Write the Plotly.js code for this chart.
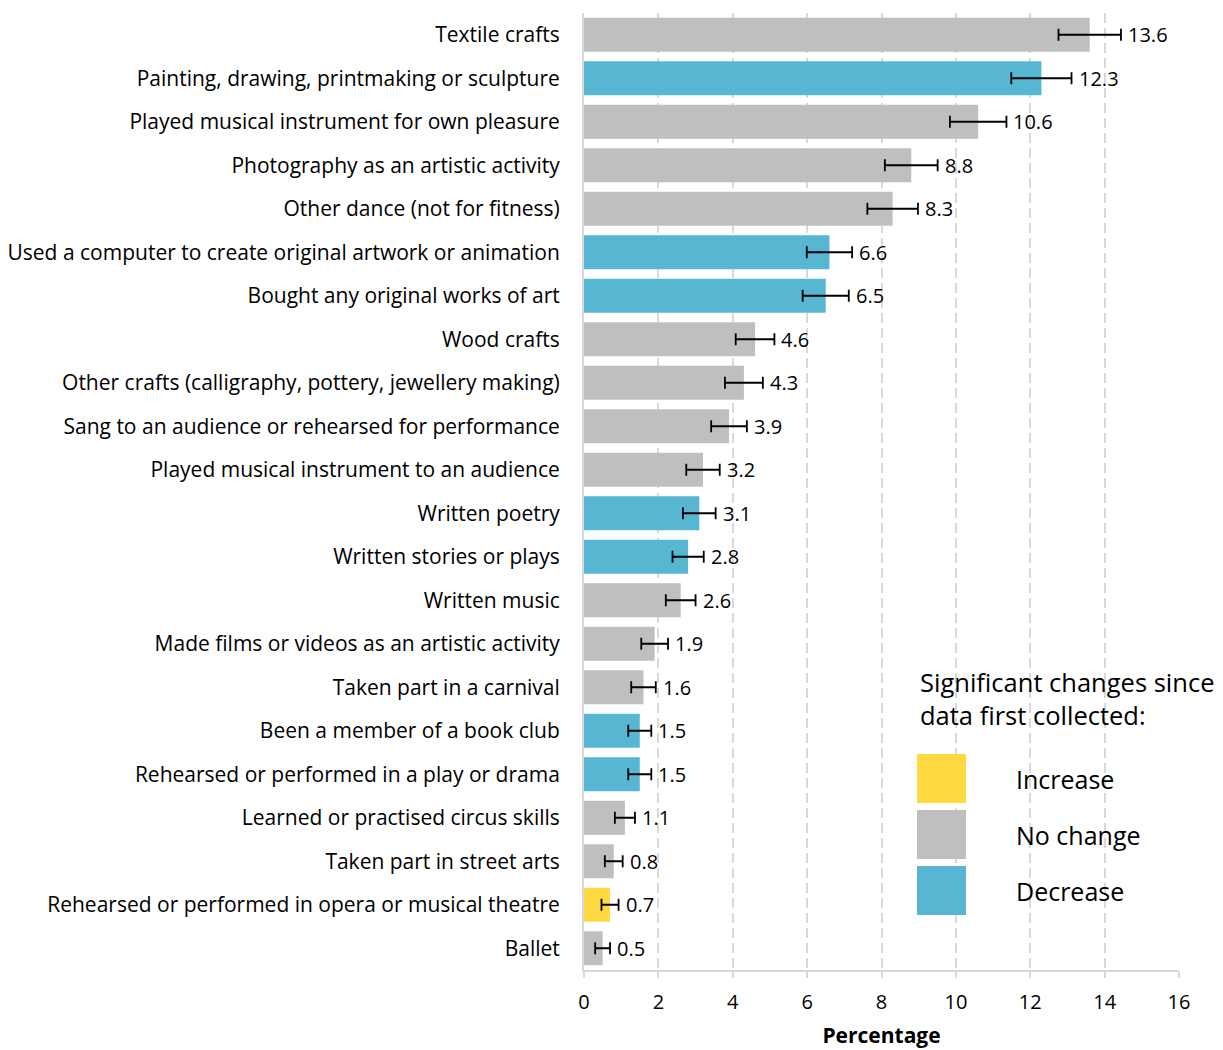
<!DOCTYPE html>
<html>
<head>
<meta charset="utf-8">
<script src="https://cdn.plot.ly/plotly-3.0.1.min.js"></script>
<style>
  html, body { margin: 0; padding: 0; background: #ffffff; }
  #chart { width: 1223px; height: 1050px; }
</style>
</head>
<body>
<div id="chart"></div>
<script>
// Participation in arts activities (percentage of respondents), with 95% intervals
const categories = [
  "Textile crafts",
  "Painting, drawing, printmaking or sculpture",
  "Played musical instrument for own pleasure",
  "Photography as an artistic activity",
  "Other dance (not for fitness)",
  "Used a computer to create original artwork or animation",
  "Bought any original works of art",
  "Wood crafts",
  "Other crafts (calligraphy, pottery, jewellery making)",
  "Sang to an audience or rehearsed for performance",
  "Played musical instrument to an audience",
  "Written poetry",
  "Written stories or plays",
  "Written music",
  "Made films or videos as an artistic activity",
  "Taken part in a carnival",
  "Been a member of a book club",
  "Rehearsed or performed in a play or drama",
  "Learned or practised circus skills",
  "Taken part in street arts",
  "Rehearsed or performed in opera or musical theatre",
  "Ballet"
];

const values = [13.6, 12.3, 10.6, 8.8, 8.3, 6.6, 6.5, 4.6, 4.3, 3.9, 3.2, 3.1, 2.8, 2.6, 1.9, 1.6, 1.5, 1.5, 1.1, 0.8, 0.7, 0.5];

const errors = [0.84, 0.81, 0.76, 0.71, 0.68, 0.61, 0.62, 0.52, 0.51, 0.48, 0.45, 0.44, 0.42, 0.40, 0.36, 0.33, 0.31, 0.31, 0.27, 0.24, 0.23, 0.20];

const changes = [
  "No change", "Decrease", "No change", "No change", "No change", "Decrease",
  "Decrease", "No change", "No change", "No change", "No change", "Decrease",
  "Decrease", "No change", "No change", "No change", "Decrease", "Decrease",
  "No change", "No change", "Increase", "No change"
];

const legendTitle = "Significant changes since<br>data first collected:";
const legendLabels = ["Increase", "No change", "Decrease"];

const xTicks = [0, 2, 4, 6, 8, 10, 12, 14, 16];

const palette = { "Increase": "#FFD940", "No change": "#BFBFBF", "Decrease": "#57B7D3" };
const FONT = "'Open Sans', 'Noto Sans', sans-serif";

// Page geometry
const W = 1223, H = 1050;
const M = { l: 584, r: 44, t: 13, b: 80 };
const plotW = W - M.l - M.r, plotH = H - M.t - M.b;
const px = x => (x - M.l) / plotW;           // page pixel -> paper x
const py = y => (M.t + plotH - y) / plotH;   // page pixel -> paper y

const barTrace = {
  type: "bar",
  orientation: "h",
  y: categories,
  x: values,
  marker: { color: changes.map(c => palette[c]) },
  error_x: { type: "data", array: errors, visible: true, color: "#000000", thickness: 1.8, width: 6 },
  hoverinfo: "x+y",
  showlegend: false
};

// Value labels placed just past the upper end of each interval
const valueLabels = categories.map((c, i) => ({
  x: values[i] + errors[i],
  y: c,
  xref: "x", yref: "y",
  text: values[i].toFixed(1),
  showarrow: false,
  xanchor: "left",
  xshift: 5,
  font: { family: FONT, size: 20, color: "#000000" }
}));

// Legend drawn as large swatches with labels
const swatchTops = [754, 810, 866];
const swatchSize = 49;
const legendShapes = legendLabels.map((lab, i) => ({
  type: "rect",
  xref: "paper", yref: "paper",
  x0: px(917), x1: px(917 + swatchSize),
  y0: py(swatchTops[i] + swatchSize), y1: py(swatchTops[i]),
  fillcolor: palette[lab],
  line: { width: 0 },
  layer: "above"
}));
const legendTexts = legendLabels.map((lab, i) => ({
  xref: "paper", yref: "paper",
  x: px(1014), y: py(swatchTops[i] + swatchSize / 2),
  text: lab,
  showarrow: false,
  xanchor: "left", yanchor: "middle",
  font: { family: FONT, size: 25, color: "#000000" }
}));
legendTexts.push({
  xref: "paper", yref: "paper",
  x: px(918), y: py(663),
  text: legendTitle,
  showarrow: false,
  align: "left",
  xanchor: "left", yanchor: "top",
  font: { family: FONT, size: 25.5, color: "#000000" }
});

const layout = {
  width: W, height: H,
  margin: M,
  paper_bgcolor: "#ffffff",
  plot_bgcolor: "#ffffff",
  bargap: 0.22,
  font: { family: FONT, size: 20, color: "#000000" },
  xaxis: {
    range: [0, 16],
    tickvals: xTicks,
    ticktext: xTicks.map(String),
    showgrid: true,
    gridcolor: "#D9D9D9",
    gridwidth: 2,
    griddash: "10px,5px",
    zeroline: false,
    showline: true,
    linecolor: "#D9D9D9",
    linewidth: 2,
    ticks: "outside",
    ticklen: 6,
    tickwidth: 2,
    tickcolor: "#D9D9D9",
    ticklabelstandoff: 7,
    tickfont: { family: FONT, size: 20, color: "#000000" },
    title: { text: "<b>Percentage</b>", font: { family: FONT, size: 21, color: "#000000" }, standoff: 14 },
    fixedrange: true
  },
  yaxis: {
    autorange: "reversed",
    showgrid: false,
    showline: true,
    linecolor: "#D9D9D9",
    linewidth: 2,
    ticks: "",
    ticklabelstandoff: 18,
    tickfont: { family: FONT, size: 21, color: "#000000" },
    fixedrange: true
  },
  shapes: legendShapes,
  annotations: valueLabels.concat(legendTexts)
};

Plotly.newPlot("chart", [barTrace], layout, { displayModeBar: false, staticPlot: true });
</script>
</body>
</html>
